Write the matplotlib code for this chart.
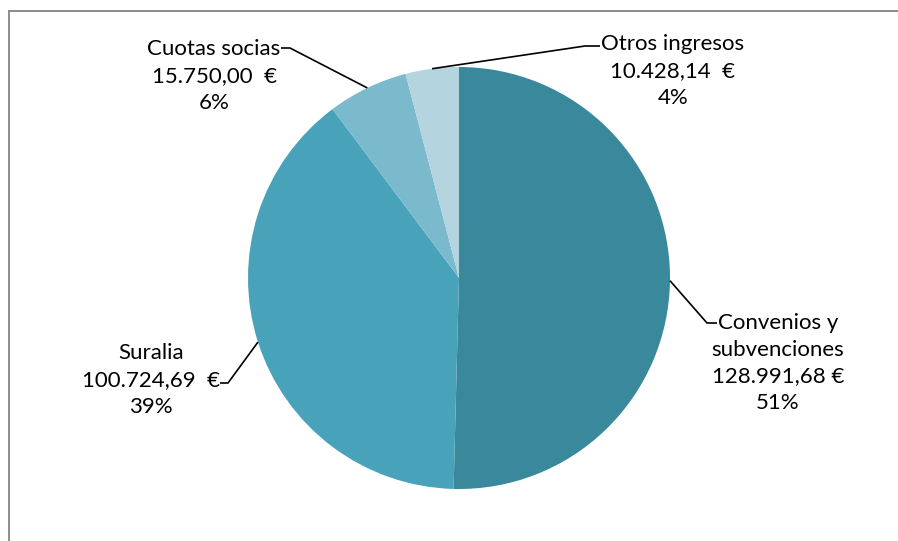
import numpy as np
import matplotlib
matplotlib.use("Agg")
import matplotlib.pyplot as plt
from matplotlib.lines import Line2D

# data
categories = ["Convenios y\nsubvenciones", "Suralia", "Cuotas socias", "Otros ingresos"]
amounts = [128991.68, 100724.69, 15750.00, 10428.14]
amount_labels = ["128.991,68 €", "100.724,69  €", "15.750,00  €", "10.428,14  €"]
pct_labels = ["51%", "39%", "6%", "4%"]
colors = ["#3A889B", "#48A2BA", "#7BB9CD", "#B4D4DF"]

plt.rcParams['font.family'] = ['Lato', 'DejaVu Sans']

W, H = 898, 541
fig = plt.figure(figsize=(W / 100, H / 100), dpi=100)
ax = fig.add_axes([0, 0, 1, 1])

# chart frame (only top and left edges visible in the crop)
fx0, fy0 = 8.5 / W, 1 - 10.5 / H
fig.add_artist(Line2D([fx0, 1.0], [fy0, fy0], transform=fig.transFigure,
                      color='#8C8C8C', linewidth=1.4))
fig.add_artist(Line2D([fx0, fx0], [0.0, fy0], transform=fig.transFigure,
                      color='#8C8C8C', linewidth=1.4))

cx, cy, r = 459, H - 278, 211
wedges, _ = ax.pie(amounts, colors=colors, startangle=90, counterclock=False,
                   center=(cx, cy), radius=r,
                   wedgeprops=dict(linewidth=0))
ax.set_xlim(0, W)
ax.set_ylim(0, H)
ax.set_aspect('equal')
ax.set_axis_off()

# label layout: text centre, elbow point, end of horizontal tick (pixel coords, y down)
layout = [
    dict(text=(778, 363), elbow=(707, 323), tick=(717, 323)),
    dict(text=(151, 380), elbow=(228, 383), tick=(220, 383)),
    dict(text=(214, 76), elbow=(290, 48), tick=(281, 48)),
    dict(text=(673, 71), elbow=(585, 46), tick=(600, 46)),
]

for w, cat, amt, pct, lay in zip(wedges, categories, amount_labels, pct_labels, layout):
    ang = np.deg2rad((w.theta1 + w.theta2) / 2)
    px, py = cx + r * np.cos(ang), cy + r * np.sin(ang)
    ex, ey = lay['elbow'][0], H - lay['elbow'][1]
    tx, ty = lay['tick'][0], H - lay['tick'][1]
    ax.plot([px, ex, tx], [py, ey, ty], color='black', linewidth=1.2,
            solid_capstyle='butt')
    ax.text(lay['text'][0], H - lay['text'][1], f"{cat}\n{amt}\n{pct}",
            ha='center', va='center', fontsize=16, linespacing=1.42,
            color='black')

fig.savefig("out.png", dpi=100)
